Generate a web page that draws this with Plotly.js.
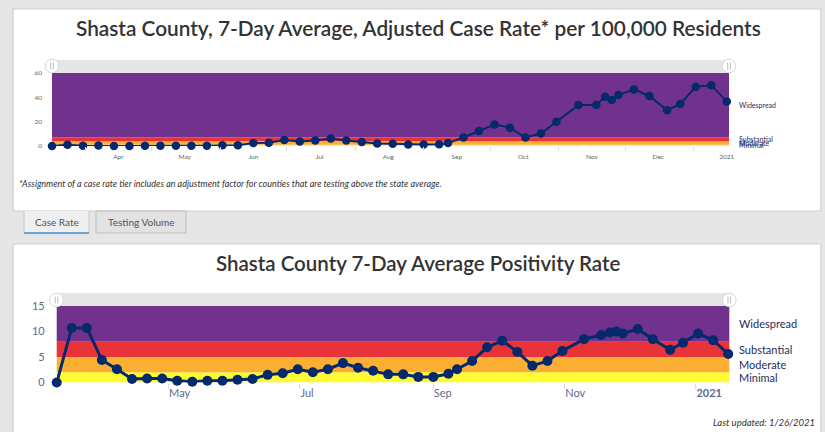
<!DOCTYPE html>
<html><head><meta charset="utf-8">
<script src="https://cdn.plot.ly/plotly-3.0.1.min.js"></script>
<style>html,body{margin:0;padding:0;background:#e6e6e6;overflow:hidden}</style>
</head><body><div id="chart" style="width:825px;height:432px"></div>
<script>
// ---- data ----
const caseDates = ['2020-03-17','2020-03-24','2020-03-31','2020-04-07','2020-04-14','2020-04-21','2020-04-28','2020-05-05','2020-05-12','2020-05-19','2020-05-26','2020-06-02','2020-06-09','2020-06-16','2020-06-23','2020-06-30','2020-07-07','2020-07-14','2020-07-21','2020-07-28','2020-08-04','2020-08-11','2020-08-18','2020-08-25','2020-09-01','2020-09-08','2020-09-12','2020-09-19','2020-09-26','2020-10-03','2020-10-10','2020-10-17','2020-10-24','2020-10-31','2020-11-10','2020-11-18','2020-11-22','2020-11-25','2020-11-28','2020-12-05','2020-12-12','2020-12-20','2020-12-26','2021-01-02','2021-01-09','2021-01-16'];
const caseRate = [0,1.1,0.2,0.4,0,0,0.2,0.2,0.2,0.2,0.2,0.7,0.7,2.4,2.7,4.9,3.7,4.6,6.2,4.6,3.2,2.0,1.8,1.3,1.3,1.5,2.4,7.0,12.4,17.6,15.1,7.0,10.3,20,33.8,33.8,40.5,37.9,41.9,46.5,41.1,29.4,34.6,48.7,50,36.5];
const posDates = ['2020-03-10','2020-03-17','2020-03-24','2020-03-31','2020-04-07','2020-04-14','2020-04-21','2020-04-28','2020-05-05','2020-05-12','2020-05-19','2020-05-26','2020-06-02','2020-06-09','2020-06-16','2020-06-23','2020-06-30','2020-07-07','2020-07-14','2020-07-21','2020-07-28','2020-08-04','2020-08-11','2020-08-18','2020-08-25','2020-09-01','2020-09-08','2020-09-12','2020-09-19','2020-09-26','2020-10-03','2020-10-10','2020-10-17','2020-10-24','2020-10-31','2020-11-10','2020-11-18','2020-11-22','2020-11-25','2020-11-28','2020-12-05','2020-12-12','2020-12-20','2020-12-26','2021-01-02','2021-01-09','2021-01-16'];
const posRate = [0,10.7,10.7,4.4,2.6,0.7,0.8,0.8,0.35,0.15,0.35,0.35,0.55,0.7,1.5,1.8,2.6,2.0,2.6,3.8,2.9,2.3,1.6,1.6,1.1,1.1,1.7,2.6,4.2,6.9,8.2,6.0,3.3,4.2,6.2,8.5,9.3,9.8,10.0,9.6,10.5,8.5,6.4,7.8,9.6,8.3,5.6];
const tierNames = ['Minimal','Moderate','Substantial','Widespread'];
const caseTierBounds = [0,1,4,7,60];
const posTierBounds = [0,2,5,8,15];
const caseTickVals = ['2020-04-16','2020-05-16','2020-06-16','2020-07-16','2020-08-16','2020-09-16','2020-10-16','2020-11-16','2020-12-16','2021-01-16'];
const caseTickText = ['Apr','May','Jun','Jul','Aug','Sep','Oct','Nov','Dec','2021'];
const caseYTicks = [0,20,40,60];
const posTickVals = ['2020-05-01','2020-07-01','2020-09-01','2020-11-01','2021-01-01'];
const posTickText = ['May','Jul','Sep','Nov','<b>2021</b>'];
const posYTicks = [0,5,10,15];
const caseTitle = 'Shasta County, 7-Day Average, Adjusted Case Rate* per 100,000 Residents';
const posTitle = 'Shasta County 7-Day Average Positivity Rate';
const footnote = '*Assignment of a case rate tier includes an adjustment factor for counties that are testing above the state average.';
const tabLabels = ['Case Rate','Testing Volume'];
const updatedText = 'Last updated: 1/26/2021';

// ---- style ----
const W = 825, H = 432;
const px = x => x / W, py = y => 1 - y / H;
const FONT = 'Lato, "Open Sans", sans-serif';
const tierColors = ['#fffb33','#fbb034','#e8333a','#70328c'];
const NAVY = '#04296c';
const LABEL = '#1f2d5c';

const shapes = [];
const annotations = [];
function rect(x0,y0,x1,y1,fill,line,lw){
  shapes.push({type:'rect',xref:'paper',yref:'paper',x0:px(x0),x1:px(x1),y0:py(y1),y1:py(y0),
    fillcolor:fill,line:{color:line||fill,width:lw===undefined?0:lw},layer:'below'});
}
function seg(x0,y0,x1,y1,color,w,layer){
  shapes.push({type:'line',xref:'paper',yref:'paper',x0:px(x0),x1:px(x1),y0:py(y0),y1:py(y1),
    line:{color:color,width:w},layer:layer||'above'});
}
function text(t,x,y,xa,size,color,extra){
  annotations.push(Object.assign({text:t,xref:'paper',yref:'paper',x:px(x),y:py(y),xanchor:xa,yanchor:'middle',
    showarrow:false,font:{family:FONT,size:size,color:color}},extra||{}));
}
// cards
rect(13,9,821,211,'#ffffff','#cdcdcd',1.2);
rect(13,244,821,445,'#ffffff','#cdcdcd',1.2);
// tabs
rect(24,211,89,233,'#efefef','#efefef',0);
seg(24,211,24,233,'#c8c8c8',1,'below');
seg(89,211,89,233,'#c8c8c8',1,'below');
seg(24,233,89,233,'#3b8ed3',1.5,'below');
rect(96,211,186,233,'#e2e2e2','#bdbdbd',1);
text(tabLabels[0],56.5,222,'center',10,'#555');
text(tabLabels[1],141,222,'center',10,'#555');
// scrollbar bands
rect(52,60,729,73,'#e6e6e6');
rect(56.7,293,729.3,306,'#e6e6e6');
// grips
function grip(cx,cy,r){
  shapes.push({type:'circle',xref:'paper',yref:'paper',x0:px(cx-r),x1:px(cx+r),y0:py(cy+r),y1:py(cy-r),
    fillcolor:'#ffffff',line:{color:'#d6d6d6',width:1},layer:'above'});
  seg(cx-1.3,cy-3.5,cx-1.3,cy+3.5,'#b5b5b5',0.9);
  seg(cx+1.3,cy-3.5,cx+1.3,cy+3.5,'#b5b5b5',0.9);
}
grip(52,66,6.8); grip(729,66,6.8); grip(56.5,300,6.8); grip(729.3,300,6.8);

// tier bands
function bands(xr,yr,bounds){
  for(let i=0;i<tierNames.length;i++){
    shapes.push({type:'rect',xref:xr+' domain',yref:yr,x0:0,x1:1,y0:bounds[i],y1:bounds[i+1],
      fillcolor:tierColors[i],line:{width:0},layer:'below'});
  }
}
bands('x','y',caseTierBounds);
bands('x2','y2',posTierBounds);
// tier labels
for(let i=0;i<tierNames.length;i++){
  annotations.push({text:tierNames[i],xref:'paper',yref:'y',x:px(736.5),y:(caseTierBounds[i]+caseTierBounds[i+1])/2,
    xanchor:'left',yanchor:'middle',showarrow:false,font:{family:FONT,size:7,color:LABEL}});
  annotations.push({text:tierNames[i],xref:'paper',yref:'y2',x:px(736.5),y:(posTierBounds[i]+posTierBounds[i+1])/2,
    xanchor:'left',yanchor:'middle',showarrow:false,font:{family:FONT,size:11,color:LABEL}});
}
// titles & texts
text(caseTitle,418,27,'center',20.8,'#333333',{font:{family:FONT,size:20.8,color:'#333333',weight:600}});
text(posTitle,418,263,'center',20.5,'#333333',{font:{family:FONT,size:20.5,color:'#333333',weight:600}});
text('<i>'+footnote+'</i>',17,183,'left',9,'#333');
text('<i>'+updatedText+'</i>',817,422,'right',9.5,'#333');

const traces = [
  {x:caseDates,y:caseRate,xaxis:'x',yaxis:'y',type:'scatter',mode:'lines+markers',cliponaxis:false,
   line:{color:NAVY,width:2},marker:{color:NAVY,size:8.5},hoverinfo:'skip'},
  {x:posDates,y:posRate,xaxis:'x2',yaxis:'y2',type:'scatter',mode:'lines+markers',cliponaxis:false,
   line:{color:NAVY,width:3},marker:{color:NAVY,size:10},hoverinfo:'skip'}
];

const layout = {
  width:W,height:H,margin:{l:0,r:0,t:0,b:0},
  paper_bgcolor:'#e6e6e6',plot_bgcolor:'rgba(0,0,0,0)',showlegend:false,
  font:{family:FONT},
  xaxis:{domain:[px(52),px(729)],anchor:'y',type:'date',range:['2020-03-17','2021-01-17'],
    tickmode:'array',tickvals:caseTickVals,ticktext:caseTickText,ticks:'',
    tickfont:{family:FONT,size:6.5,color:'#666'},ticklabelstandoff:5,
    showgrid:false,zeroline:false,showline:false,fixedrange:true,
    minor:{dtick:'M1',tick0:'2020-01-01',ticks:'outside',ticklen:4,tickcolor:'#dddddd',tickwidth:1,showgrid:false}},
  yaxis:{domain:[py(146),py(73)],anchor:'x',range:[0,60],tickmode:'array',tickvals:caseYTicks,
    tickfont:{family:FONT,size:6.5,color:'#666'},ticklabelstandoff:9,
    showgrid:false,zeroline:false,showline:false,fixedrange:true},
  xaxis2:{domain:[px(56.7),px(729.3)],anchor:'y2',type:'date',range:['2020-03-10','2021-01-16 12:00'],
    tickmode:'array',tickvals:posTickVals,ticktext:posTickText,ticks:'outside',ticklen:5,tickcolor:'#dcdcdc',
    ticklabelposition:'outside right',tickfont:{family:FONT,size:11,color:'#5b6b8c'},
    showgrid:false,zeroline:false,showline:false,fixedrange:true},
  yaxis2:{domain:[py(382.5),py(306)],anchor:'x2',range:[0,15],tickmode:'array',tickvals:posYTicks,
    tickfont:{family:FONT,size:11,color:'#5b6b8c'},ticklabelstandoff:11,
    showgrid:false,zeroline:false,showline:false,fixedrange:true},
  shapes:shapes,annotations:annotations
};
Plotly.newPlot('chart',traces,layout,{displayModeBar:false,staticPlot:true});
</script></body></html>
